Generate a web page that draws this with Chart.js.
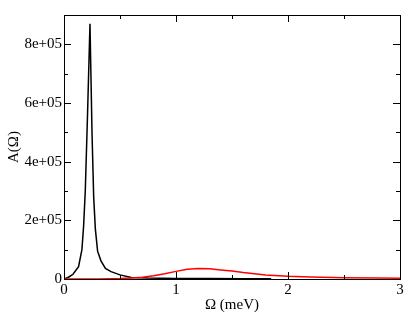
<!DOCTYPE html>
<html>
<head>
<meta charset="utf-8">
<script src="https://cdn.jsdelivr.net/npm/chart.js@4"></script>
<style>
  html, body { margin: 0; padding: 0; background: #fff; }
  #wrap { width: 415px; height: 321px; }
</style>
</head>
<body>
<div id="wrap"><canvas id="spec"></canvas></div>
<script>
// black curve: sharp peak near 0.23 meV
const blackX = [0, 0.04, 0.08, 0.13, 0.16, 0.175, 0.19, 0.21, 0.232, 0.25, 0.265, 0.28, 0.30, 0.33, 0.37, 0.42, 0.50, 0.60, 0.75, 1.0, 1.3, 1.6, 1.85];
const blackY = [0, 6e3, 1.6e4, 4.2e4, 1.0e5, 1.8e5, 3.0e5, 5.6e5, 8.7e5, 5.0e5, 2.8e5, 1.7e5, 9.5e4, 6.2e4, 3.6e4, 2.5e4, 1.4e4, 5e3, 3e3, 2e3, 1.4e3, 9e2, 6e2];

// red curve: broad bump near 1.2 meV
const redX = [0, 0.3, 0.5, 0.6, 0.7, 0.8, 0.9, 1.0, 1.1, 1.2, 1.3, 1.4, 1.5, 1.6, 1.8, 2.0, 2.2, 2.5, 2.8, 3.0];
const redY = [0, 3e2, 1.5e3, 3e3, 6e3, 1.1e4, 1.8e4, 2.6e4, 3.3e4, 3.6e4, 3.5e4, 3.1e4, 2.7e4, 2.2e4, 1.4e4, 9e3, 6.5e3, 4.5e3, 3.2e3, 2.5e3];

const xTitle = "Ω (meV)";
const yTitle = "A(Ω)";

const FONT = { family: "'Liberation Serif', 'Times New Roman', serif", size: 15 };

function toPoints(xs, ys) {
    return xs.map((x, i) => ({ x: x, y: ys[i] }));
}

function yLabel(v) {
    if (v === 0) return "0";
    if (v % 2e5 !== 0) return "";
    return v.toExponential().replace(/e\+(\d)$/, "e+0$1");
}

// inward ticks on all four sides plus the frame
const frameTicks = {
    id: "frameTicks",
    afterDatasetsDraw(chart) {
        const ctx = chart.ctx;
        const a = chart.chartArea;
        const xs = chart.scales.x, ys = chart.scales.y;
        ctx.save();
        ctx.strokeStyle = "#000";
        ctx.lineWidth = 1;
        ctx.beginPath();
        xs.ticks.forEach(t => {
            let px = Math.round(xs.getPixelForValue(t.value)) + 0.5;
            let len = Number.isInteger(t.value) ? 7 : 4;
            ctx.moveTo(px, a.bottom); ctx.lineTo(px, a.bottom - len);
            ctx.moveTo(px, a.top); ctx.lineTo(px, a.top + len);
        });
        ys.ticks.forEach(t => {
            let py = Math.round(ys.getPixelForValue(t.value)) + 0.5;
            let len = t.value % 2e5 === 0 ? 7 : 4;
            ctx.moveTo(a.left, py); ctx.lineTo(a.left + len, py);
            ctx.moveTo(a.right, py); ctx.lineTo(a.right - len, py);
        });
        ctx.stroke();
        ctx.strokeRect(Math.round(a.left) + 0.5, Math.round(a.top) + 0.5,
            Math.round(a.right - a.left), Math.round(a.bottom - a.top));
        ctx.restore();
    }
};

new Chart(document.getElementById("spec"), {
    type: "scatter",
    data: {
        datasets: [
            {
                data: toPoints(redX, redY),
                showLine: true,
                borderColor: "#ff0000",
                borderWidth: 1.5,
                pointRadius: 0,
                tension: 0
            },
            {
                data: toPoints(blackX, blackY),
                showLine: true,
                borderColor: "#000000",
                borderWidth: 1.5,
                pointRadius: 0,
                tension: 0
            }
        ]
    },
    options: {
        responsive: true,
        maintainAspectRatio: false,
        animation: false,
        layout: { padding: { top: 15, right: 15, left: 0, bottom: 0 } },
        plugins: { legend: { display: false }, tooltip: { enabled: false } },
        scales: {
            x: {
                type: "linear",
                min: 0, max: 3,
                grid: { display: false, drawTicks: false },
                border: { display: false },
                ticks: {
                    stepSize: 0.5, autoSkip: false, maxRotation: 0, padding: 2,
                    color: "#000", font: FONT,
                    callback: v => Number.isInteger(v) ? String(v) : ""
                },
                title: { display: true, text: xTitle, color: "#000", font: FONT, padding: { top: 0, bottom: 7 } },
                afterFit: s => { s.height = 42; }
            },
            y: {
                type: "linear",
                min: 0, max: 9e5,
                grid: { display: false, drawTicks: false },
                border: { display: false },
                ticks: {
                    stepSize: 1e5, autoSkip: false, padding: 2,
                    color: "#000", font: FONT,
                    callback: v => yLabel(v)
                },
                title: { display: true, text: yTitle, color: "#000", font: FONT, padding: { top: 5, bottom: 0 } },
                afterFit: s => { s.width = 64; }
            }
        }
    },
    plugins: [frameTicks]
});
</script>
</body>
</html>
